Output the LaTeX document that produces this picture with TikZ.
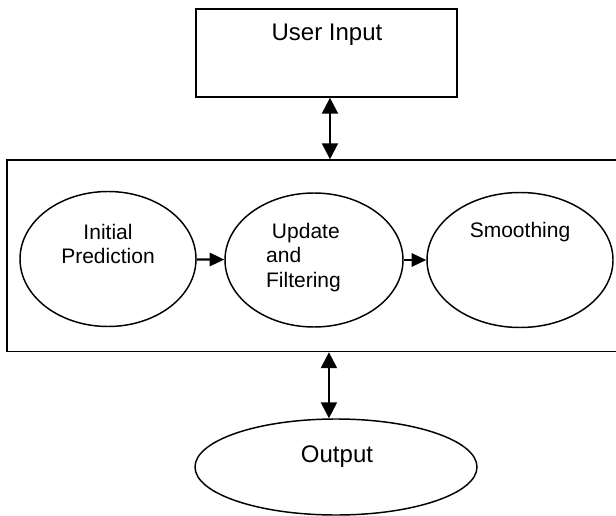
\documentclass[tikz,border=0pt]{standalone}
\usepackage{fontspec}
\setmainfont{Liberation Sans}
\usetikzlibrary{arrows.meta, positioning, shapes.geometric}

\begin{document}
\begin{tikzpicture}[
    x=0.75pt, y=-0.75pt,
    line width=1.1pt,
    blob/.style={draw, ellipse, inner sep=0pt},
    txt/.style={font=\fontsize{15.75}{18.4}\selectfont, inner sep=0pt},
    bigtxt/.style={font=\fontsize{18}{21}\selectfont, inner sep=0pt},
    link/.style={-{Triangle[length=11pt, width=10pt]}, line width=1.6pt},
    both/.style={{Triangle[length=12pt, width=12pt]}-{Triangle[length=12pt, width=12pt]}, line width=1.6pt}
]

\useasboundingbox (0,0) rectangle (616,516);

\node[draw, minimum width=195.75pt, minimum height=66pt] (user) at (326.5,53) {};
\node[bigtxt] (usertxt) at (327,35) {User Input};

% frame runs past the right edge of the page
\node[draw, minimum width=464.25pt, minimum height=143.6pt] (frame) at (316.5,255.75) {};

\node[blob, minimum width=132pt, minimum height=101.25pt] (init) at (108,259) {};
\node[txt, align=center] (inittxt) at (108,244) {Initial\\Prediction};

\node[blob, minimum width=133.5pt, minimum height=100.5pt] (upd) at (314,260) {};
\node[txt, align=left] (updtxt) at (303.5,257.5) {\ Update\\and\\Filtering};

\node[blob, minimum width=139.5pt, minimum height=101.25pt] (smooth) at (520,260) {};
\node[txt] (smoothtxt) at (520,232) {Smoothing};

\node[blob, minimum width=211.5pt, minimum height=72pt] (out) at (336,467) {};
\node[bigtxt] (outtxt) at (337,457) {Output};

\path[link]
    (init) edge (upd)
    (upd) edge (smooth)
    ;

\draw[both] ([xshift=2.6pt]user.south) -- ([xshift=2.6pt]user.south |- frame.north);
\draw[both] ([xshift=-5.3pt]frame.south -| out.north) -- ([xshift=-5.3pt]out.north);

\end{tikzpicture}
\end{document}
